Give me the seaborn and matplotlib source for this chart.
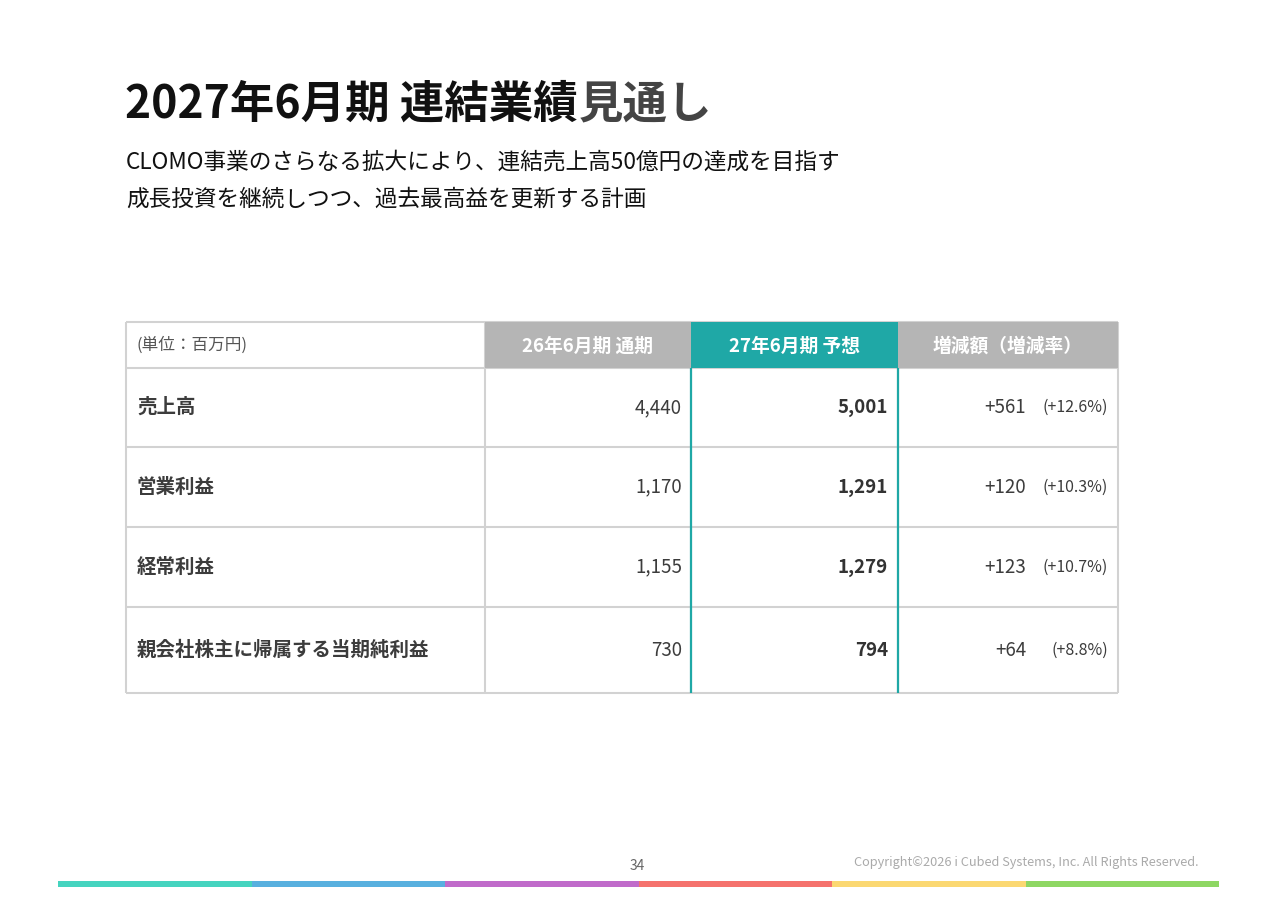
import matplotlib
matplotlib.use("Agg")
import matplotlib.pyplot as plt
import seaborn as sns

# table content
unit_label = "(単位：百万円)"
col_headers = ["26年6月期 通期", "27年6月期 予想", "増減額（増減率）"]
row_labels = ["売上高", "営業利益", "経常利益", "親会社株主に帰属する当期純利益"]
fy26 = [4440, 1170, 1155, 730]
fy27 = [5001, 1291, 1279, 794]
diff = [561, 120, 123, 64]
rate = [12.6, 10.3, 10.7, 8.8]

title_main = "2027年6月期 連結業績"
title_tail = "見通し"
sub_lines = ["CLOMO事業のさらなる拡大により、連結売上高50億円の達成を目指す",
             "成長投資を継続しつつ、過去最高益を更新する計画"]
page_no = "34"
copyright = "Copyright©2026 i Cubed Systems, Inc. All Rights Reserved."
stripe_colors = ["#45d4bf", "#58b0df", "#c06bca", "#f5726d", "#fbd872", "#8ed763"]

sns.set_theme(style="white")
plt.rcParams["font.family"] = ["Noto Sans CJK JP", "DejaVu Sans"]

TEAL = "#1fa8a6"
HEAD_GRAY = "#b5b5b5"
GRID = "#d2d2d2"
TXT = "#3c3c3c"

fig = plt.figure(figsize=(12.8, 9.05), dpi=100)
ax = fig.add_axes([0, 0, 1, 1])
ax.set_xlim(0, 1280)
ax.set_ylim(905, 0)
ax.axis("off")

# title
t = ax.text(125, 105, title_main, fontsize=32, fontweight="bold", color="#111111",
            va="center", ha="left")
fig.canvas.draw()
bb = t.get_window_extent().transformed(ax.transData.inverted())
ax.text(bb.x1 + 1, 105, title_tail, fontsize=32, fontweight="bold", color="#444444",
        va="center", ha="left")
ax.text(126, 162, sub_lines[0], fontsize=16.3, color="#111111", va="center")
ax.text(126, 199, sub_lines[1], fontsize=16.3, color="#111111", va="center")

# table geometry
col_edges = [126, 485, 691, 898, 1118]
head_top, head_bot = 322, 368
row_edges = [368, 447, 527, 607, 693]

# header cells
head_x = [(col_edges[i] + col_edges[i + 1]) / 2 for i in range(1, 4)]
head_w = [col_edges[i + 1] - col_edges[i] for i in range(1, 4)]
ax.bar(head_x, head_bot - head_top, width=head_w, bottom=head_top,
       color=[HEAD_GRAY, TEAL, HEAD_GRAY], edgecolor="none", zorder=3)
for x, h in zip(head_x, col_headers):
    ax.text(x, 346, h, fontsize=13.5, fontweight="bold", color="white",
            ha="center", va="center", zorder=4)
ax.text(137, 345, unit_label, fontsize=12, color="#555555", va="center")

# grid
for y in [head_top] + row_edges:
    ax.hlines(y, col_edges[0], col_edges[-1], color=GRID, lw=1.5, zorder=2)
for x in col_edges:
    ax.vlines(x, head_top, row_edges[-1], color=GRID, lw=1.5, zorder=2)
ax.vlines([col_edges[2], col_edges[3]], head_bot, row_edges[-1], color=TEAL, lw=1.6, zorder=2.5)

# rows
for i, lab in enumerate(row_labels):
    yc = (row_edges[i] + row_edges[i + 1]) / 2
    ax.text(137, yc, lab, fontsize=14, fontweight="bold", color=TXT, va="center")
    ax.text(682, yc, f"{fy26[i]:,}", fontsize=13.5, color=TXT, ha="right", va="center")
    ax.text(888, yc, f"{fy27[i]:,}", fontsize=13.5, fontweight="bold", color="#333333",
            ha="right", va="center")
    ax.text(1026, yc, f"+{diff[i]:,}", fontsize=13.5, color=TXT, ha="right", va="center")
    ax.text(1108, yc, f"(+{rate[i]:.1f}%)", fontsize=11.5, color=TXT, ha="right", va="center")

# footer
ax.text(637, 866, page_no, fontsize=10, color="#666666", ha="center", va="center")
ax.text(1198, 862, copyright, fontsize=9.2, color="#aaaaaa", ha="right", va="center")
seg_w = (1219 - 58) / len(stripe_colors)
seg_x = [58 + seg_w * (k + 0.5) for k in range(len(stripe_colors))]
ax.bar(seg_x, 6, width=seg_w, bottom=881, color=stripe_colors, edgecolor="none")

fig.savefig("out.png", dpi=100)
